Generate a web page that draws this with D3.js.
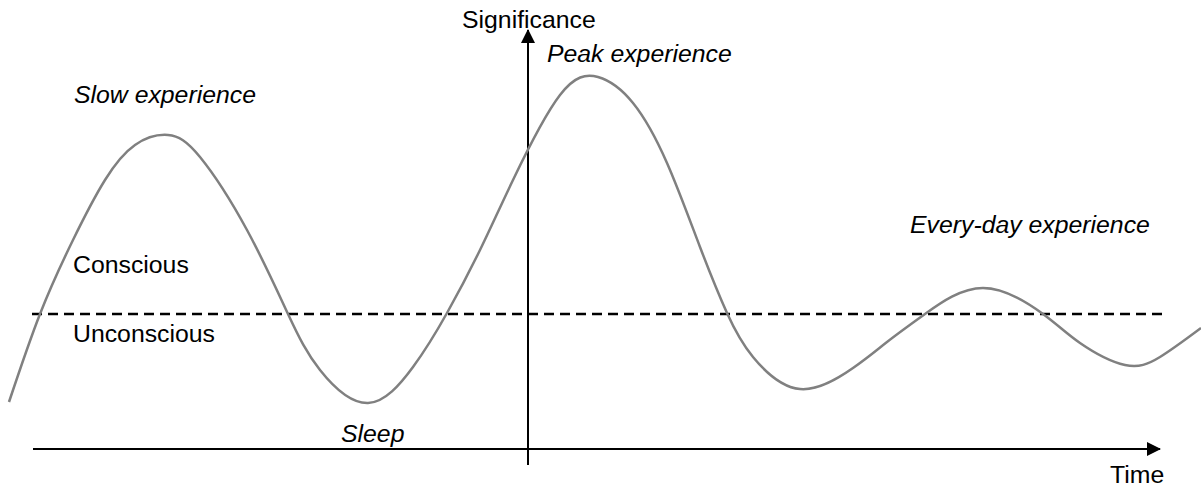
<!DOCTYPE html>
<html>
<head>
<meta charset="utf-8">
<script src="https://cdn.jsdelivr.net/npm/d3@7"></script>
<style>
  body { margin: 0; background: #fff; }
  text { font-family: Arial, "Liberation Sans", sans-serif; font-size: 24.8px; fill: #000; }
  .it { font-style: italic; }
</style>
</head>
<body>
<div id="chart"></div>
<script>
// time (t) and significance (s, 0 = threshold between conscious / unconscious)
const curveTime = [0.9, 4.0, 7.3, 10.5, 13.5, 16.8, 20.0, 24.7, 28.8, 32.0, 36.8, 41.3, 44.7,
  48.0, 51.3, 56.0, 59.8, 63.3, 66.7, 70.0, 72.7, 75.3, 80.0, 85.3, 88.7, 92.5,
  98.3, 104.3, 108.0, 112.5, 116.0, 120.1];
const curveSig = [-8.8, 0, 7.4, 13.4, 16.9, 17.9, 15.7, 8.4, 0, -5.6, -8.9, -5.3, 0.1,
  6.4, 13.4, 21.9, 23.7, 21.1, 15.1, 6.7, 0.1, -4.3, -7.5, -5.4, -2.8, 0,
  2.6, 0, -2.9, -5.1, -4.3, -1.4];

const thresholdRange = [3.2, 116.2];
const axisLabels = { x: "Time", y: "Significance" };
const notes = [
  { text: "Slow experience", t: 7.4, s: 21.1, italic: true },
  { text: "Peak experience", t: 54.7, s: 25.2, italic: true },
  { text: "Every-day experience", t: 91.0, s: 8.1, italic: true },
  { text: "Conscious", t: 7.3, s: 4.1, italic: false },
  { text: "Unconscious", t: 7.3, s: -2.8, italic: false },
  { text: "Sleep", t: 34.1, s: -12.8, italic: true }
];

const W = 1201, H = 488;
const x = d3.scaleLinear().domain([0, 120]).range([0, 1200]);
const y = d3.scaleLinear().domain([-13.5, 28.4]).range([449, 30]);

const svg = d3.select("#chart").append("svg")
  .attr("width", W).attr("height", H);

const defs = svg.append("defs");
defs.append("marker")
  .attr("id", "arrow")
  .attr("viewBox", "0 0 14 14")
  .attr("refX", 13).attr("refY", 7)
  .attr("markerUnits", "userSpaceOnUse")
  .attr("markerWidth", 14).attr("markerHeight", 14)
  .attr("orient", "auto")
  .append("path")
  .attr("d", "M0,0 L14,7 L0,14 z")
  .attr("fill", "#000");

// threshold
svg.append("line")
  .attr("x1", x(thresholdRange[0])).attr("x2", x(thresholdRange[1]))
  .attr("y1", y(0)).attr("y2", y(0))
  .attr("stroke", "#000").attr("stroke-width", 2.5)
  .attr("stroke-dasharray", "10,6");

// axes
svg.append("line")
  .attr("x1", x(3.3)).attr("x2", x(116.0))
  .attr("y1", y(-13.5)).attr("y2", y(-13.5))
  .attr("stroke", "#000").attr("stroke-width", 2)
  .attr("marker-end", "url(#arrow)");

svg.append("line")
  .attr("x1", x(52.8)).attr("x2", x(52.8))
  .attr("y1", y(-15.1)).attr("y2", y(28.4))
  .attr("stroke", "#000").attr("stroke-width", 2)
  .attr("marker-end", "url(#arrow)");

// curve
const pts = curveTime.map((t, i) => [t, curveSig[i]]);
const line = d3.line()
  .x(d => x(d[0]))
  .y(d => y(d[1]))
  .curve(d3.curveNatural);

svg.append("path")
  .datum(pts)
  .attr("d", line)
  .attr("fill", "none")
  .attr("stroke", "#808080")
  .attr("stroke-width", 2.5);

// labels
svg.append("text").attr("x", x(46.2)).attr("y", 28).text(axisLabels.y);
svg.append("text").attr("x", x(111.0)).attr("y", 483).text(axisLabels.x);

svg.selectAll(".note")
  .data(notes)
  .enter()
  .append("text")
  .attr("class", d => d.italic ? "note it" : "note")
  .attr("x", d => x(d.t))
  .attr("y", d => y(d.s))
  .text(d => d.text);
</script>
</body>
</html>
